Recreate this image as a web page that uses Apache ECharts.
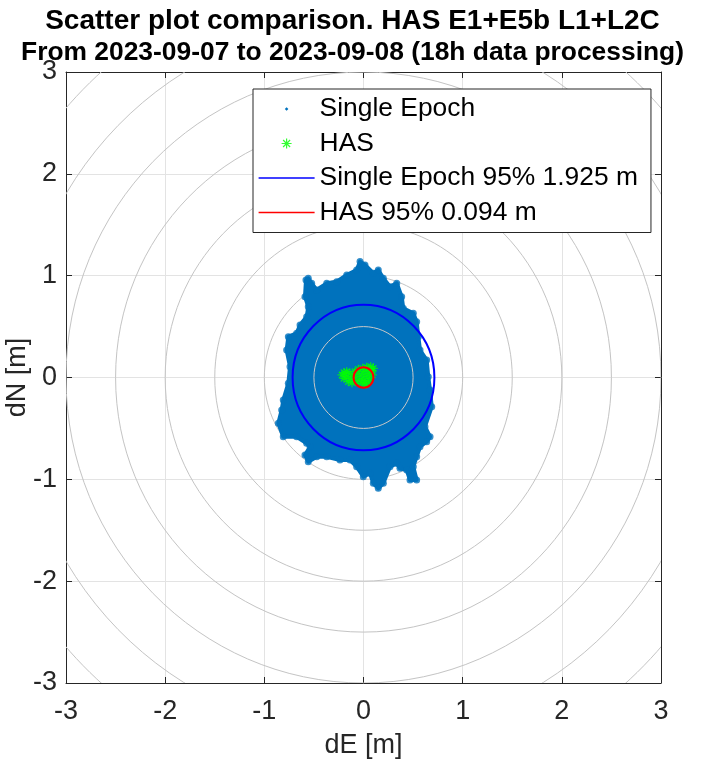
<!DOCTYPE html>
<html><head><meta charset="utf-8">
<script src="https://cdn.jsdelivr.net/npm/echarts@6/dist/echarts.min.js"></script>
<style>html,body{margin:0;padding:0;background:#fff}#c{width:705px;height:765px}</style>
</head><body><div id="c"></div>
<script>
// ---------- data ----------
const titleLine1 = 'Scatter plot comparison. HAS E1+E5b L1+L2C';
const titleLine2 = 'From 2023-09-07 to 2023-09-08 (18h data processing)';
const axisMin = -3, axisMax = 3, axisStep = 1;
const gridRadii = [0.5, 1, 1.5, 2, 2.5, 3, 3.5, 4];
// outline of the Single Epoch point cloud [dE, dN] (m)
const seOutlineE = [-0.580,-0.557,-0.523,-0.472,-0.371,-0.270,-0.169,-0.069,-0.035,0.015,0.099,0.149,0.200,0.267,0.335,0.385,0.401,0.502,0.536,0.553,0.570,0.637,0.653,0.671,0.688,0.620,0.671,0.637,0.570,0.536,0.502,0.536,0.469,0.436,0.368,0.335,0.267,0.200,0.149,0.099,0.066,-0.002,-0.069,-0.136,-0.237,-0.371,-0.472,-0.557,-0.590,-0.539,-0.573,-0.674,-0.809,-0.859,-0.825,-0.809,-0.758,-0.741,-0.775,-0.758,-0.674,-0.640,-0.573,-0.557,-0.590];
const seOutlineN = [0.958,0.974,0.925,0.860,0.925,0.941,1.007,1.056,1.138,1.105,1.024,1.056,0.974,0.892,0.925,0.794,0.680,0.631,0.548,0.401,0.270,0.172,0.008,-0.123,-0.287,-0.483,-0.582,-0.631,-0.680,-0.778,-0.876,-1.007,-1.007,-0.909,-0.892,-0.843,-0.876,-1.039,-1.088,-1.039,-0.941,-0.974,-0.876,-0.810,-0.810,-0.778,-0.778,-0.827,-0.761,-0.680,-0.646,-0.582,-0.582,-0.450,-0.319,-0.221,-0.057,0.106,0.270,0.401,0.434,0.516,0.597,0.695,0.794];
// HAS solutions [dE, dN] (m)
const hasE = [-0.217,-0.197,-0.197,-0.169,-0.169,-0.153,-0.136,-0.129,-0.116,-0.086,-0.086,-0.076,-0.052,-0.042,-0.035,-0.018,-0.008,-0.002,0.005,0.015,0.032,0.038,0.048,0.058,0.073,0.083,0.089,0.099,0.030];
const hasN = [0.025,0.047,-0.008,0.057,0.008,-0.041,0.041,-0.008,-0.051,0.057,0.008,-0.041,0.081,0.025,-0.025,-0.057,0.090,0.041,-0.008,-0.051,0.100,0.057,0.008,-0.031,0.106,0.067,0.025,0.090,-0.064];
// 95% circles: [centre dE, centre dN, radius]
const seCircle = [0, 0, 0.715];
const hasCircle = [0, 0, 0.10];
const legendNames = ['Single Epoch', 'HAS', 'Single Epoch 95% 1.925 m', 'HAS 95% 0.094 m'];

// ---------- chart ----------
const FONT = '"Liberation Sans", Arial, Helvetica, sans-serif';
const AX = '#262626';
const SE_BLUE = '#0072BD';
const chart = echarts.init(document.getElementById('c'), null, {renderer: 'canvas'});

function ellipseItem(color, width) {
  return function (params, api) {
    const c = api.coord([api.value(0), api.value(1)]);
    const s = api.size([api.value(2), api.value(2)]);
    return {type: 'ellipse', shape: {cx: c[0], cy: c[1], rx: s[0], ry: s[1]},
      style: {fill: null, stroke: color, lineWidth: width}};
  };
}

function axisCommon(show) {
  return {
    type: 'value', min: axisMin, max: axisMax, interval: axisStep,
    axisLine: {show: true, onZero: false, lineStyle: {color: AX, width: 1}},
    axisTick: {show: true, inside: true, length: 6, lineStyle: {color: AX}},
    axisLabel: {show: show, fontSize: 27, color: AX, fontFamily: FONT},
    splitLine: {show: show, lineStyle: {color: '#e3e3e3', width: 1}}
  };
}

const option = {
  backgroundColor: '#fff',
  animation: false,
  title: {
    text: '{a|' + titleLine1 + '}\n{b|' + titleLine2 + '}', left: 'center', top: 0,
    padding: [5, 0, 5, 9],
    textStyle: {
      color: '#000', fontFamily: FONT, fontWeight: 'bold',
      rich: {
        a: {fontSize: 28, fontWeight: 'bold', color: '#000', fontFamily: FONT, lineHeight: 32},
        b: {fontSize: 26.4, fontWeight: 'bold', color: '#000', fontFamily: FONT, lineHeight: 32}
      }
    }
  },
  grid: {left: 66, right: 44, top: 72, bottom: 82, outerBoundsMode: 'none', containLabel: false},
  xAxis: [
    Object.assign(axisCommon(true), {position: 'bottom', name: 'dE [m]', nameLocation: 'middle', nameGap: 49, nameMoveOverlap: false,
      nameTextStyle: {fontSize: 27, color: AX, fontFamily: FONT}, axisLabel: {fontSize: 27, color: AX, fontFamily: FONT, margin: 15}}),
    Object.assign(axisCommon(false), {position: 'top'})
  ],
  yAxis: [
    Object.assign(axisCommon(true), {position: 'left', name: 'dN [m]', nameLocation: 'middle', nameGap: 35, nameMoveOverlap: false,
      nameTextStyle: {fontSize: 27, color: AX, fontFamily: FONT}, axisLabel: {fontSize: 27, color: AX, fontFamily: FONT, margin: 9}}),
    Object.assign(axisCommon(false), {position: 'right'})
  ],
  legend: {
    orient: 'vertical', left: 253, top: 89, z: 20,
    padding: [7, 13, 7, 5], itemGap: 8.5, itemWidth: 56, itemHeight: 14,
    borderColor: AX, borderWidth: 1, backgroundColor: '#fff', selectedMode: false,
    textStyle: {fontSize: 26.4, color: '#000', fontFamily: FONT},
    data: [
      {name: legendNames[0], icon: 'path://M0,0 M56,14 M28,5.2 L29.8,7 L28,8.8 L26.2,7 Z', itemStyle: {color: SE_BLUE, borderWidth: 0}},
      {name: legendNames[1], icon: 'path://M0,0 M56,14 M28,2 L28,12 M23,7 L33,7 M24.5,3.5 L31.5,10.5 M24.5,10.5 L31.5,3.5', itemStyle: {color: '#00ff00', borderColor: '#00ff00', borderWidth: 1.2}},
      {name: legendNames[2], icon: 'path://M0,6.2 L56,6.2 L56,7.8 L0,7.8 Z', itemStyle: {color: '#0000ff', borderWidth: 0}},
      {name: legendNames[3], icon: 'path://M0,6.2 L56,6.2 L56,7.8 L0,7.8 Z', itemStyle: {color: '#ff0000', borderWidth: 0}}
    ]
  },
  series: [
    {
      name: 'rings', type: 'custom', z: 1, clip: true, silent: true,
      data: gridRadii.filter(r => r > 0.75).map(r => [0, 0, r]),
      renderItem: ellipseItem('#c4c4c4', 1)
    },
    {
      name: legendNames[0], type: 'custom', z: 2, clip: true,
      data: [[0, 0]],
      renderItem: function (params, api) {
        const pts = seOutlineE.map((e, i) => api.coord([e, seOutlineN[i]]));
        return {type: 'polygon', shape: {points: pts, smooth: 0},
          style: {fill: SE_BLUE, stroke: SE_BLUE, lineWidth: 4, lineJoin: 'round'}};
      }
    },
    {
      name: 'seEdge', type: 'scatter', z: 2, silent: true,
      data: seOutlineE.map((e, i) => [e, seOutlineN[i]]),
      symbol: 'circle', symbolSize: 7,
      itemStyle: {color: SE_BLUE}
    },
    {
      name: 'ringsInner', type: 'custom', z: 3, clip: true, silent: true,
      data: gridRadii.filter(r => r < 0.75).map(r => [0, 0, r]),
      renderItem: ellipseItem('#c8c8c8', 1)
    },
    {
      name: legendNames[1], type: 'scatter', z: 4,
      data: hasE.map((e, i) => [e, hasN[i]]),
      symbol: 'path://M0,-5 L0,5 M-5,0 L5,0 M-3.5,-3.5 L3.5,3.5 M-3.5,3.5 L3.5,-3.5',
      symbolSize: 9,
      itemStyle: {color: '#00ff00', borderColor: '#00ff00', borderWidth: 1.3}
    },
    {
      name: legendNames[2], type: 'custom', z: 5, clip: true,
      data: [seCircle],
      renderItem: ellipseItem('#0000ff', 2)
    },
    {
      name: legendNames[3], type: 'custom', z: 6, clip: true,
      data: [hasCircle],
      renderItem: ellipseItem('#ff0000', 2)
    }
  ]
};
chart.setOption(option);
</script>
</body></html>
